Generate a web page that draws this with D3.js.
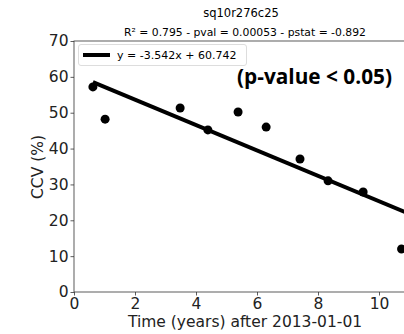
<!DOCTYPE html>
<html>
<head>
<meta charset="utf-8">
<script src="https://cdn.jsdelivr.net/npm/d3@7"></script>
<style>
body { margin: 0; background: #fff; }
text { font-family: "DejaVu Sans", sans-serif; }
</style>
</head>
<body>
<script>
let width = 404
let height = 334

// data
let years = [0.62, 1.02, 3.48, 4.39, 5.38, 6.30, 7.41, 8.33, 9.48, 10.74]
let ccv = [57.2, 48.2, 51.3, 45.2, 50.2, 46.0, 37.1, 31.0, 27.9, 12.0]
let slope = -3.542
let intercept = 60.742
let xTicks = [0, 2, 4, 6, 8, 10]
let yTicks = [0, 10, 20, 30, 40, 50, 60, 70]

let svg = d3.select("body")
.append("svg")
.attr("width", width)
.attr("height", height)

let x = d3.scaleLinear()
.domain([0, 10])
.range([74, 379])

let y = d3.scaleLinear()
.domain([0, 70])
.range([292, 41])

let plotRight = 440

// titles
svg.append("text")
	.attr("x", 241).attr("y", 17)
	.attr("text-anchor", "middle")
	.style("font-size", "11.5px")
	.text("sq10r276c25")

svg.append("text")
	.attr("x", 245).attr("y", 36)
	.attr("text-anchor", "middle")
	.style("font-size", "10.8px")
	.text("R² = 0.795 - pval = 0.00053 - pstat = -0.892")

// axes
let xAxis = d3.axisBottom(x).tickValues(xTicks).tickSize(3.5).tickPadding(2)
let yAxis = d3.axisLeft(y).tickValues(yTicks).tickSize(3.5).tickPadding(2)

let gx = svg.append("g").attr("transform", "translate(0,292)").call(xAxis)
let gy = svg.append("g").attr("transform", "translate(74,0)").call(yAxis)

for (let g of [gx, gy]) {
	g.select(".domain").remove()
	g.selectAll("line").attr("stroke", "#333").attr("stroke-width", 0.8)
	g.selectAll("text")
	.style("font-family", "DejaVu Sans")
	.style("font-size", "15.5px")
	.attr("fill", "#222")
}

// frame
svg.append("rect")
	.attr("x", 74).attr("y", 41)
	.attr("width", plotRight - 74).attr("height", 251)
	.attr("fill", "none")
	.attr("stroke", "#333")
	.attr("stroke-width", 0.8)

svg.append("text")
	.attr("x", 245).attr("y", 327)
	.attr("text-anchor", "middle")
	.style("font-size", "15.5px")
	.attr("fill", "#222")
	.text("Time (years) after 2013-01-01")

svg.append("text")
	.attr("transform", "translate(43,167) rotate(-90)")
	.attr("text-anchor", "middle")
	.style("font-size", "15.5px")
	.attr("fill", "#222")
	.text("CCV (%)")

// regression line
let x0 = d3.min(years)
let x1 = d3.max(years) + 0.5
svg.append("line")
	.attr("x1", x(x0)).attr("y1", y(slope * x0 + intercept))
	.attr("x2", x(x1)).attr("y2", y(slope * x1 + intercept))
	.attr("stroke", "#000")
	.attr("stroke-width", 4)

// points
svg.selectAll("circle.pt")
	.data(years)
	.enter()
	.append("circle")
	.attr("class", "pt")
	.attr("cx", (d, i) => x(d))
	.attr("cy", (d, i) => y(ccv[i]))
	.attr("r", 4.5)
	.attr("fill", "#000")

// legend
let lg = svg.append("g")
lg.append("rect")
	.attr("x", 78.5).attr("y", 44.5)
	.attr("width", 168).attr("height", 21)
	.attr("rx", 2.5)
	.attr("fill", "#fff")
	.attr("fill-opacity", 0.85)
	.attr("stroke", "#ddd")
lg.append("line")
	.attr("x1", 83).attr("x2", 110)
	.attr("y1", 55).attr("y2", 55)
	.attr("stroke", "#000")
	.attr("stroke-width", 4)
lg.append("text")
	.attr("x", 117).attr("y", 59)
	.style("font-size", "11px")
	.text("y = -3.542x + 60.742")

svg.append("text")
	.attr("x", 237).attr("y", 84)
	.style("font-family", "'Open Sans', sans-serif")
	.style("font-weight", "700")
	.style("font-size", "21px")
	.attr("textLength", 155)
	.attr("lengthAdjust", "spacingAndGlyphs")
	.text("(p-value < 0.05)")
</script>
</body>
</html>
